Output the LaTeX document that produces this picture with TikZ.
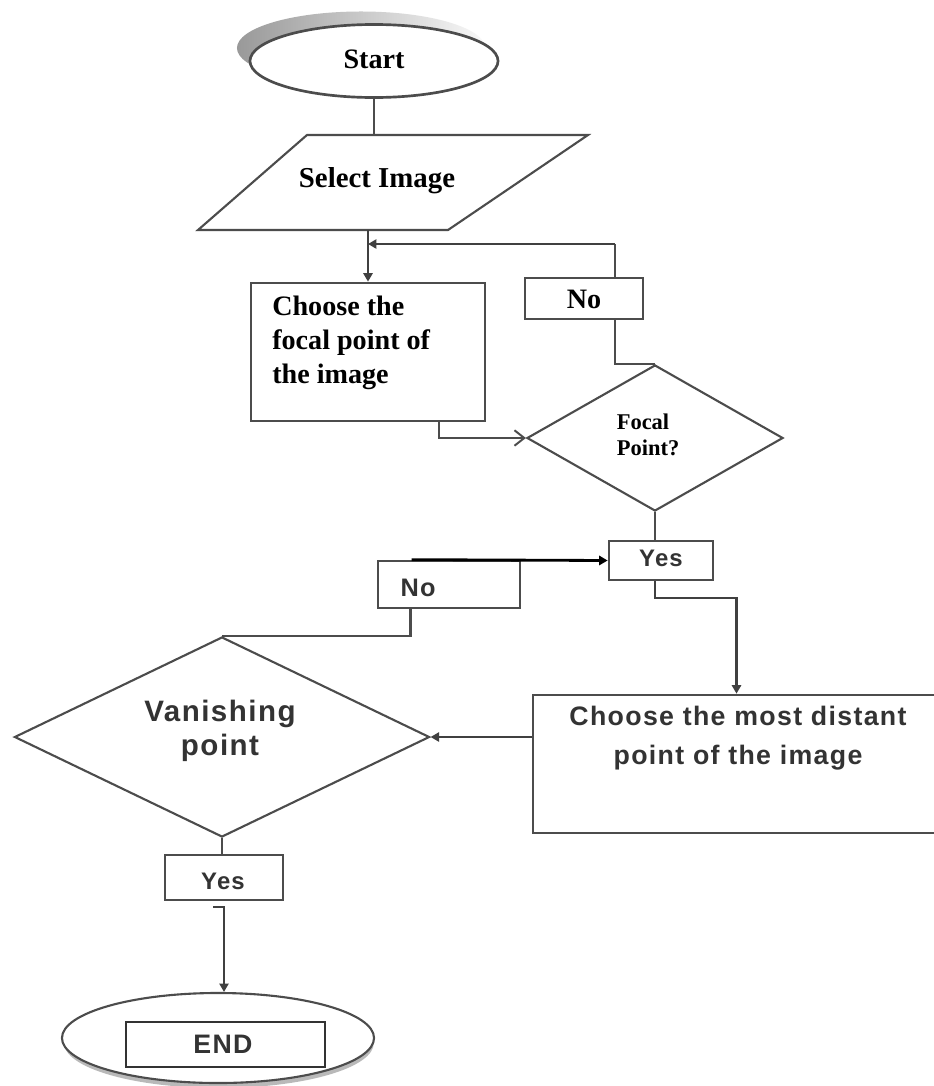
\documentclass[tikz,border=0pt]{standalone}
\usepackage{fontspec}
\setmainfont{Liberation Serif}
\setsansfont{Liberation Sans}
\newfontfamily\spsans[LetterSpace=5]{Liberation Sans}
\usetikzlibrary{shapes.geometric,arrows.meta,calc}

\tikzset{
  ln/.style={draw=black!70, line width=1.9pt},
  thinln/.style={draw=black!70, line width=1.5pt},
  boxnode/.style={ln, rectangle, fill=white, inner sep=0pt},
  serifbf/.style={font=\fontsize{20}{24}\selectfont\bfseries, text=black},
  sansbf/.style={text=black!80},
  arr/.style={draw=black!75, line width=1.5pt, -{Triangle[length=6pt,width=6.5pt]}},
  openarr/.style={draw=black!70, line width=1.5pt, -{Straight Barb[length=7pt,width=11pt,line width=1.4pt]}},
}

\begin{document}
\begin{tikzpicture}[x=0.025cm, y=-0.025cm]
\useasboundingbox (0,0) rectangle (934,1086);
\clip (0,0) rectangle (934,1086);
\fill[white] (0,0) rectangle (934,1086);

% Start terminal with its soft shadow
\shade[left color=gray!80, right color=gray!5] (361,48) ellipse [x radius=3.1cm, y radius=0.9125cm];
\node[ln, ellipse, fill=white, minimum width=6.2cm, minimum height=1.825cm, inner sep=0pt] (start) at (374,61) {};
\node[serifbf] (starttxt) at (374,59) {Start};

% input parallelogram
\coordinate (P1) at (307,135);
\coordinate (P2) at (588,135);
\coordinate (P3) at (448,230);
\coordinate (P4) at (198,230);
\draw[thinln, fill=white] (P1) -- (P2) -- (P3) -- (P4) -- cycle;
\node[serifbf, font=\fontsize{20.5}{24}\selectfont\bfseries] (sel) at (377,181) {Select Image};
\draw[ln] (start.south) -- (start.south |- P1);

% focal point process box
\node[boxnode, minimum width=5.85cm, minimum height=3.45cm] (c1) at (368,352) {};
\node[serifbf, align=left, anchor=north west, inner sep=0pt] (c1t) at (272,296)
  {Choose the\\focal point of\\the image};
\draw[arr] (c1.north |- P4) -- (c1.north);

% focal point decision
\node[thinln, diamond, fill=white, minimum width=6.4cm, minimum height=3.65cm, inner sep=0pt] (fp) at (655,438) {};
\node[align=left, inner sep=0pt, font=\fontsize{16}{18.5}\selectfont\bfseries] (fpt) at (648,435) {Focal\\Point?};
\draw[openarr] ($(c1.south west)+(189,0)$) |- (fp.west);

% "No" loop back above the focal point box
\coordinate (L2) at (615,244);
\draw[ln] (fp.north) -- (fp.north -| L2) -- (L2);
\draw[arr] (L2) -- (c1.north |- L2);
\node[boxnode, minimum width=2.95cm, minimum height=1.025cm] (no1) at (584,298.5) {};
\node[serifbf] (no1t) at (584,299) {No};

% "Yes" after focal point
\node[boxnode, minimum width=2.6cm, minimum height=0.975cm] (yes1) at (661,560.5) {};
\node[sansbf, font=\spsans\fontsize{17}{20}\selectfont\bfseries] (yes1t) at (661,558) {Yes};
\draw[ln] (fp.south) -- (fp.south |- yes1.north);

% most distant point box
\node[boxnode, minimum width=10.175cm, minimum height=3.45cm] (c2) at (736.5,764) {};
\node[sansbf, align=center, inner sep=0pt, font=\spsans\fontsize{19}{28}\selectfont\bfseries] (c2t) at (738,738)
  {Choose the most distant\\point of the image};
\draw[arr] (fp.south |- yes1.south) -- ++(0,17) -| (c2.north);

% vanishing point decision
\node[thinln, diamond, fill=white, minimum width=10.375cm, minimum height=5cm, inner sep=0pt] (vd) at (222,737) {};
\node[sansbf, align=center, inner sep=0pt, font=\spsans\fontsize{21}{24}\selectfont\bfseries] (vdt) at (220,731)
  {Vanishing\\point};
\draw[arr] (c2.west |- vd.east) -- (vd.east);

% "No" back to the Yes box
\node[boxnode, minimum width=3.55cm, minimum height=1.175cm] (no2) at (449,584.5) {};
\node[sansbf, font=\spsans\fontsize{18}{20}\selectfont\bfseries] (no2t) at (418,588) {No};
\draw[ln] (vd.north) -| ($(no2.south west)+(34,0)$);
\draw[arr, draw=black, line width=2pt] ($(no2.north west)+(35,0)$) -- (yes1.west);

% "Yes" towards the end
\node[boxnode, minimum width=2.95cm, minimum height=1.125cm] (yes2) at (224,877.5) {};
\node[sansbf, font=\spsans\fontsize{17}{20}\selectfont\bfseries] (yes2t) at (223,881) {Yes};
\draw[ln] (vd.south) -- (vd.south |- yes2.north);

% end terminal
\fill[gray!55] (219,1043) ellipse [x radius=3.87cm, y radius=1.125cm];
\node[thinln, ellipse, fill=white, minimum width=7.8cm, minimum height=2.25cm, inner sep=0pt] (endE) at (218,1038) {};
\node[boxnode, draw=black!80, minimum width=4.975cm, minimum height=1.125cm] (endbox) at (225.5,1044.5) {};
\node[sansbf, font=\spsans\fontsize{19}{22}\selectfont\bfseries] (endt) at (223,1044) {END};
\coordinate (hk) at (213,907);
\draw[arr] (hk) -- ++(11,0) coordinate (hk2) -- (hk2 |- endE.north);
\end{tikzpicture}
\end{document}
